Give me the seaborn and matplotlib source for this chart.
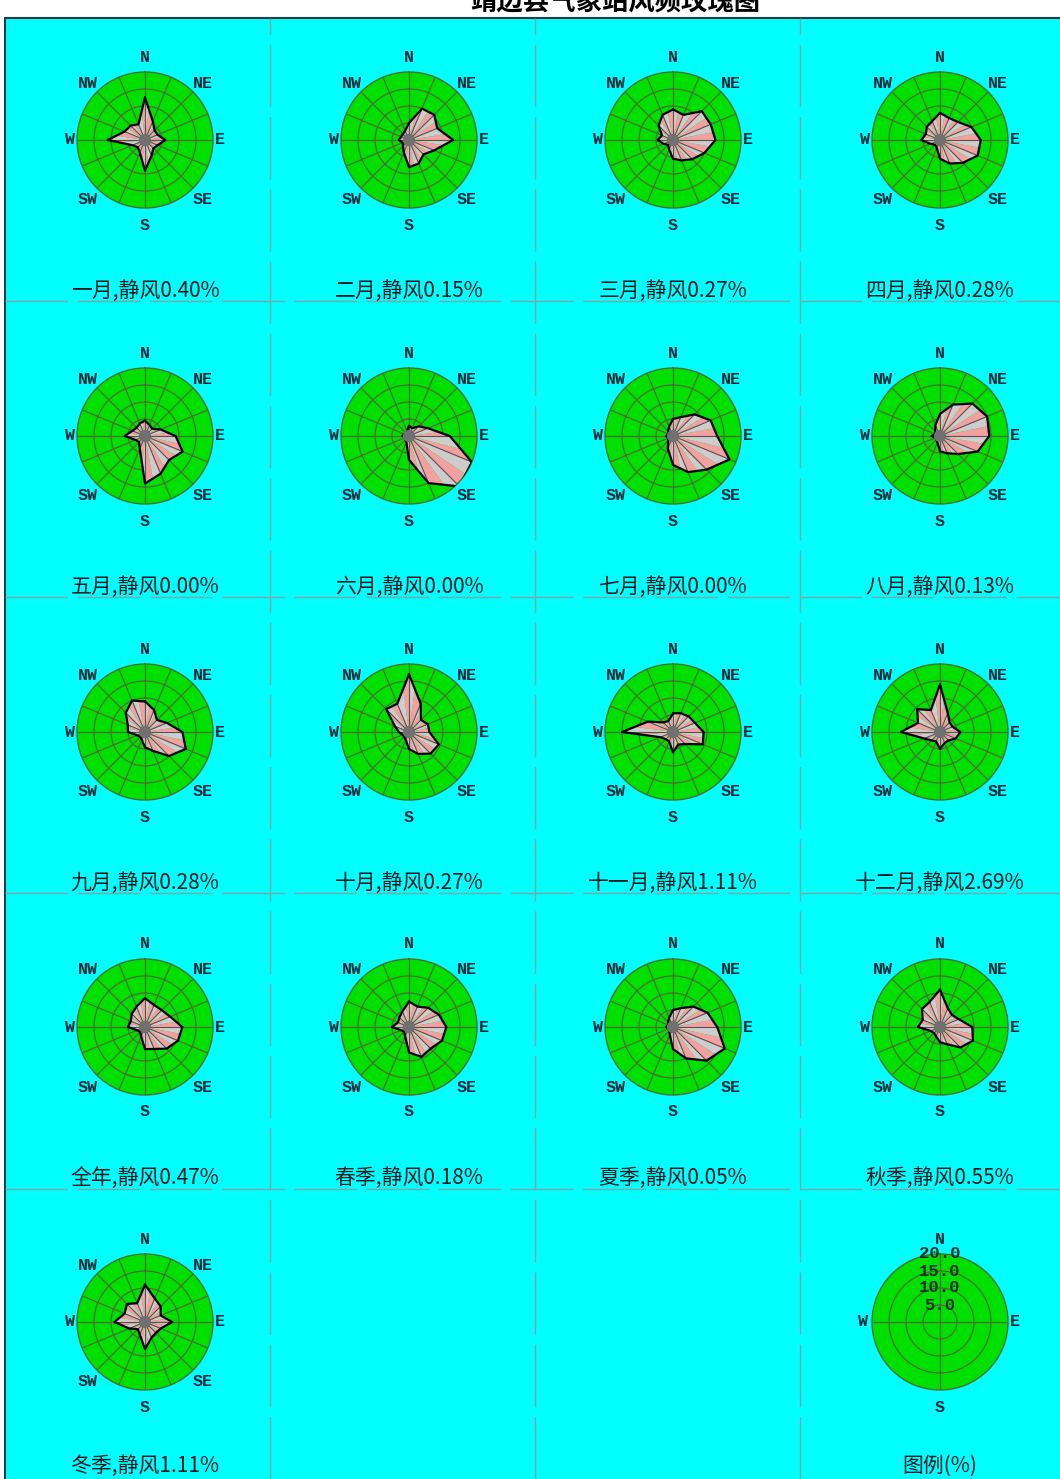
import numpy as np
import matplotlib
matplotlib.use("Agg")
import matplotlib.pyplot as plt
from matplotlib.patches import Rectangle
from matplotlib.lines import Line2D
import seaborn as sns

sns.set_style("white")
plt.rcParams["font.family"] = ["Noto Sans CJK SC", "DejaVu Sans"]

# ---- data -------------------------------------------------------------
directions = ["N", "NNE", "NE", "ENE", "E", "ESE", "SE", "SSE",
              "S", "SSW", "SW", "WSW", "W", "WNW", "NW", "NNW"]

panel_names = ["一月", "二月", "三月", "四月",
               "五月", "六月", "七月", "八月",
               "九月", "十月", "十一月", "十二月",
               "全年", "春季", "夏季", "秋季", "冬季"]

calm = [0.40, 0.15, 0.27, 0.28,
        0.00, 0.00, 0.00, 0.13,
        0.28, 0.27, 1.11, 2.69,
        0.47, 0.18, 0.05, 0.55, 1.11]

jan = [12.5, 6, 4, 4, 6, 4, 3.5, 5, 9, 4, 3, 4, 11, 6.5, 6, 5]
feb = [5, 10, 10.5, 9, 13, 8, 6, 7.5, 8, 4, 2.5, 2, 3, 2.5, 2.5, 3]
mar = [9, 8, 12, 12, 12.5, 10, 8, 6.5, 5.5, 3, 2, 3, 4.5, 3.5, 6, 8]
apr = [8, 7, 7.5, 10, 12, 12, 9.5, 7.5, 5.5, 2.5, 2, 3, 5.5, 4.5, 5.5, 6]
may = [4.5, 3.5, 3, 5, 9, 12, 10, 12, 14, 4, 2.5, 3, 6, 4, 3.5, 4]
jun = [3, 2.5, 4, 6, 12, 20, 21, 15, 7, 2, 1.5, 1, 2, 1.5, 1, 1.5]
jul = [5, 6, 9, 12, 13, 18, 14, 11.5, 8.5, 4, 2, 1.5, 2, 1.5, 2, 3]
aug = [6.5, 10, 13.5, 15, 14.5, 12, 7.5, 5.5, 4.5, 2, 1.5, 1.5, 2.5, 1.5, 2, 3.5]
sep = [9, 7, 5, 7, 11, 13, 10, 6, 4.5, 2.5, 2, 2.5, 5, 5.5, 8, 10]
oct_ = [17, 9, 5, 6, 6, 9.5, 9, 7, 5, 2.5, 2, 2, 3, 4.5, 9.5, 9]
nov = [5.5, 6, 6.5, 7, 9, 9.5, 5, 4, 6, 3, 3, 4, 15, 8, 4, 3.5]
dec = [14, 6, 4, 4, 6, 5, 3.5, 3.5, 5, 3, 3.5, 5, 11.5, 7, 9.5, 7]
year = [8.5, 7, 7, 8, 11, 10.5, 9, 7, 6.5, 3, 2, 2.5, 5, 4.5, 5.5, 6.5]
spring = [7.5, 6.5, 8, 9.5, 11, 10.5, 9, 9.5, 7.5, 3, 2, 2.5, 5, 3.5, 4, 5]
summer = [5, 6, 8.5, 11, 13, 16.5, 14, 10, 6.5, 2.5, 1.5, 1.5, 2, 1.5, 2, 3]
autumn = [11, 6, 5, 6, 9.5, 10.5, 8.5, 5.5, 4.5, 3, 2.5, 3, 6.5, 5.5, 7.5, 8]
winter = [11, 7.5, 6.5, 5, 8, 5, 4.5, 5, 8, 4, 3, 5, 9, 6.5, 7.5, 6]

roses = [jan, feb, mar, apr, may, jun, jul, aug,
         sep, oct_, nov, dec, year, spring, summer, autumn, winter]

ring_values = [5.0, 10.0, 15.0, 20.0]
title = "靖边县气象站风频玫瑰图"

# ---- styling ------------------------------------------------------------
W, H = 1060, 1479
CYAN = "#00FFFF"
GREEN = "#00E000"
GRID = "#4A6E30"
PINK = "#F2A0A0"
GREY = "#CDCDCD"
CALM = "#707070"
TEXT = "#102A38"
SEP = "#7FA5A5"

col_x = [145, 409, 673, 940]
row_y = [140, 436, 732, 1027, 1322]
R_PX = 68


def fx(px):
    return px / W


def fy(py):
    return 1 - py / H


fig = plt.figure(figsize=(W / 100, H / 100), dpi=100)
fig.patch.set_facecolor("white")

TOP = 18
LEFT = 5
fig.patches.append(Rectangle((fx(LEFT), 0), 1 - fx(LEFT), fy(TOP),
                             transform=fig.transFigure, facecolor=CYAN,
                             edgecolor="none", zorder=-5))
fig.lines.append(Line2D([fx(LEFT), 1], [fy(TOP), fy(TOP)],
                        transform=fig.transFigure, color="#1E3A48", lw=1.5,
                        zorder=-4))
fig.lines.append(Line2D([fx(LEFT), fx(LEFT)], [0, fy(TOP)],
                        transform=fig.transFigure, color="#1E3A48", lw=1.5,
                        zorder=-4))

# cell separators
for xs in [270, 535, 800]:
    fig.lines.append(Line2D([fx(xs), fx(xs)], [0, fy(TOP)],
                            transform=fig.transFigure, color=SEP, lw=1,
                            linestyle=(0, (45, 7)), zorder=-4))
for ys in [301, 597, 893, 1189]:
    fig.lines.append(Line2D([fx(LEFT), 1], [fy(ys), fy(ys)],
                            transform=fig.transFigure, color=SEP, lw=1,
                            linestyle=(0, (45, 7)), zorder=-4))

fig.text(fx(615), fy(3), title, ha="center", va="center", fontsize=19,
         fontweight="bold", color="black")

theta = np.deg2rad(np.arange(16) * 22.5)
DIR_FONT = dict(family=["Liberation Mono", "DejaVu Sans Mono"],
                fontweight="bold", fontsize=12, color=TEXT,
                ha="center", va="center")


def make_axes(cx, cy):
    ax = fig.add_axes([fx(cx - R_PX), fy(cy + R_PX), 2 * R_PX / W, 2 * R_PX / H],
                      projection="polar")
    ax.set_theta_zero_location("N")
    ax.set_theta_direction(-1)
    ax.set_ylim(0, 20)
    ax.set_facecolor(GREEN)
    ax.spines["polar"].set_color(GRID)
    ax.spines["polar"].set_linewidth(1.0)
    ax.set_yticks([5, 10, 15])
    ax.set_yticklabels([])
    ax.grid(True, color=GRID, lw=0.9)
    ax.tick_params(length=0, pad=0)
    return ax


def draw_rose(ax, vals):
    r = np.asarray(vals, dtype=float)
    x = r * np.sin(theta)
    y = r * np.cos(theta)
    for i in range(16):
        j = (i + 1) % 16
        mx, my = (x[i] + x[j]) / 2, (y[i] + y[j]) / 2
        mt, mr = np.arctan2(mx, my), np.hypot(mx, my)
        ax.fill([0, theta[i], mt], [0, r[i], mr], color=GREY, lw=0, zorder=2)
        ax.fill([0, mt, theta[j]], [0, mr, r[j]], color=PINK, lw=0, zorder=2)
        ax.plot([0, theta[i]], [0, r[i]], color="#5E4E4E", lw=0.8, zorder=3)
    sns.lineplot(x=np.r_[theta, theta[0]], y=np.r_[r, r[0]], sort=False,
                 estimator=None, color="black", lw=1.6, ax=ax, zorder=4)
    ring = np.linspace(0, 2 * np.pi, 60)
    ax.fill(ring, np.full_like(ring, 1.8), color=CALM, lw=0, zorder=5)
    ax.set_xlabel("")
    ax.set_ylabel("")


label_offsets = {"N": (0, -83), "NE": (58, -57), "E": (75, 0), "SE": (58, 60),
                 "S": (0, 85), "SW": (-57, 60), "W": (-75, 0), "NW": (-57, -57)}

for k, (name, vals, c) in enumerate(zip(panel_names, roses, calm)):
    cx = col_x[k % 4]
    cy = row_y[k // 4]
    ax = make_axes(cx, cy)
    ax.set_xticks(theta)
    ax.set_xticklabels([])
    draw_rose(ax, vals)
    for lab, (dx, dy) in label_offsets.items():
        fig.text(fx(cx + dx), fy(cy + dy), lab, **DIR_FONT)
    ly = cy + 151 if k < 16 else cy + 144
    fig.text(fx(cx), fy(ly), f"{name},静风{c:.2f}%", ha="center",
             va="center", fontsize=15, color="#101820")

# legend rose
cx, cy = col_x[3], row_y[4]
ax = make_axes(cx, cy)
ax.set_xticks(np.deg2rad([0, 90, 180, 270]))
ax.set_xticklabels([])
for rv in ring_values:
    ax.text(0, rv, f"{rv:.1f}", ha="center", va="center", fontsize=12.5,
            color="#1A3020", family=["Liberation Mono", "DejaVu Sans Mono"],
            fontweight="bold", zorder=6)
for lab, (dx, dy) in {"N": (0, -82), "E": (75, 0), "S": (0, 85), "W": (-77, 0)}.items():
    fig.text(fx(cx + dx), fy(cy + dy), lab, **DIR_FONT)
fig.text(fx(cx), fy(cy + 144), "图例(%)", ha="center", va="center",
         fontsize=15, color="#101820")

fig.savefig("out.png", dpi=100, facecolor=fig.get_facecolor())
